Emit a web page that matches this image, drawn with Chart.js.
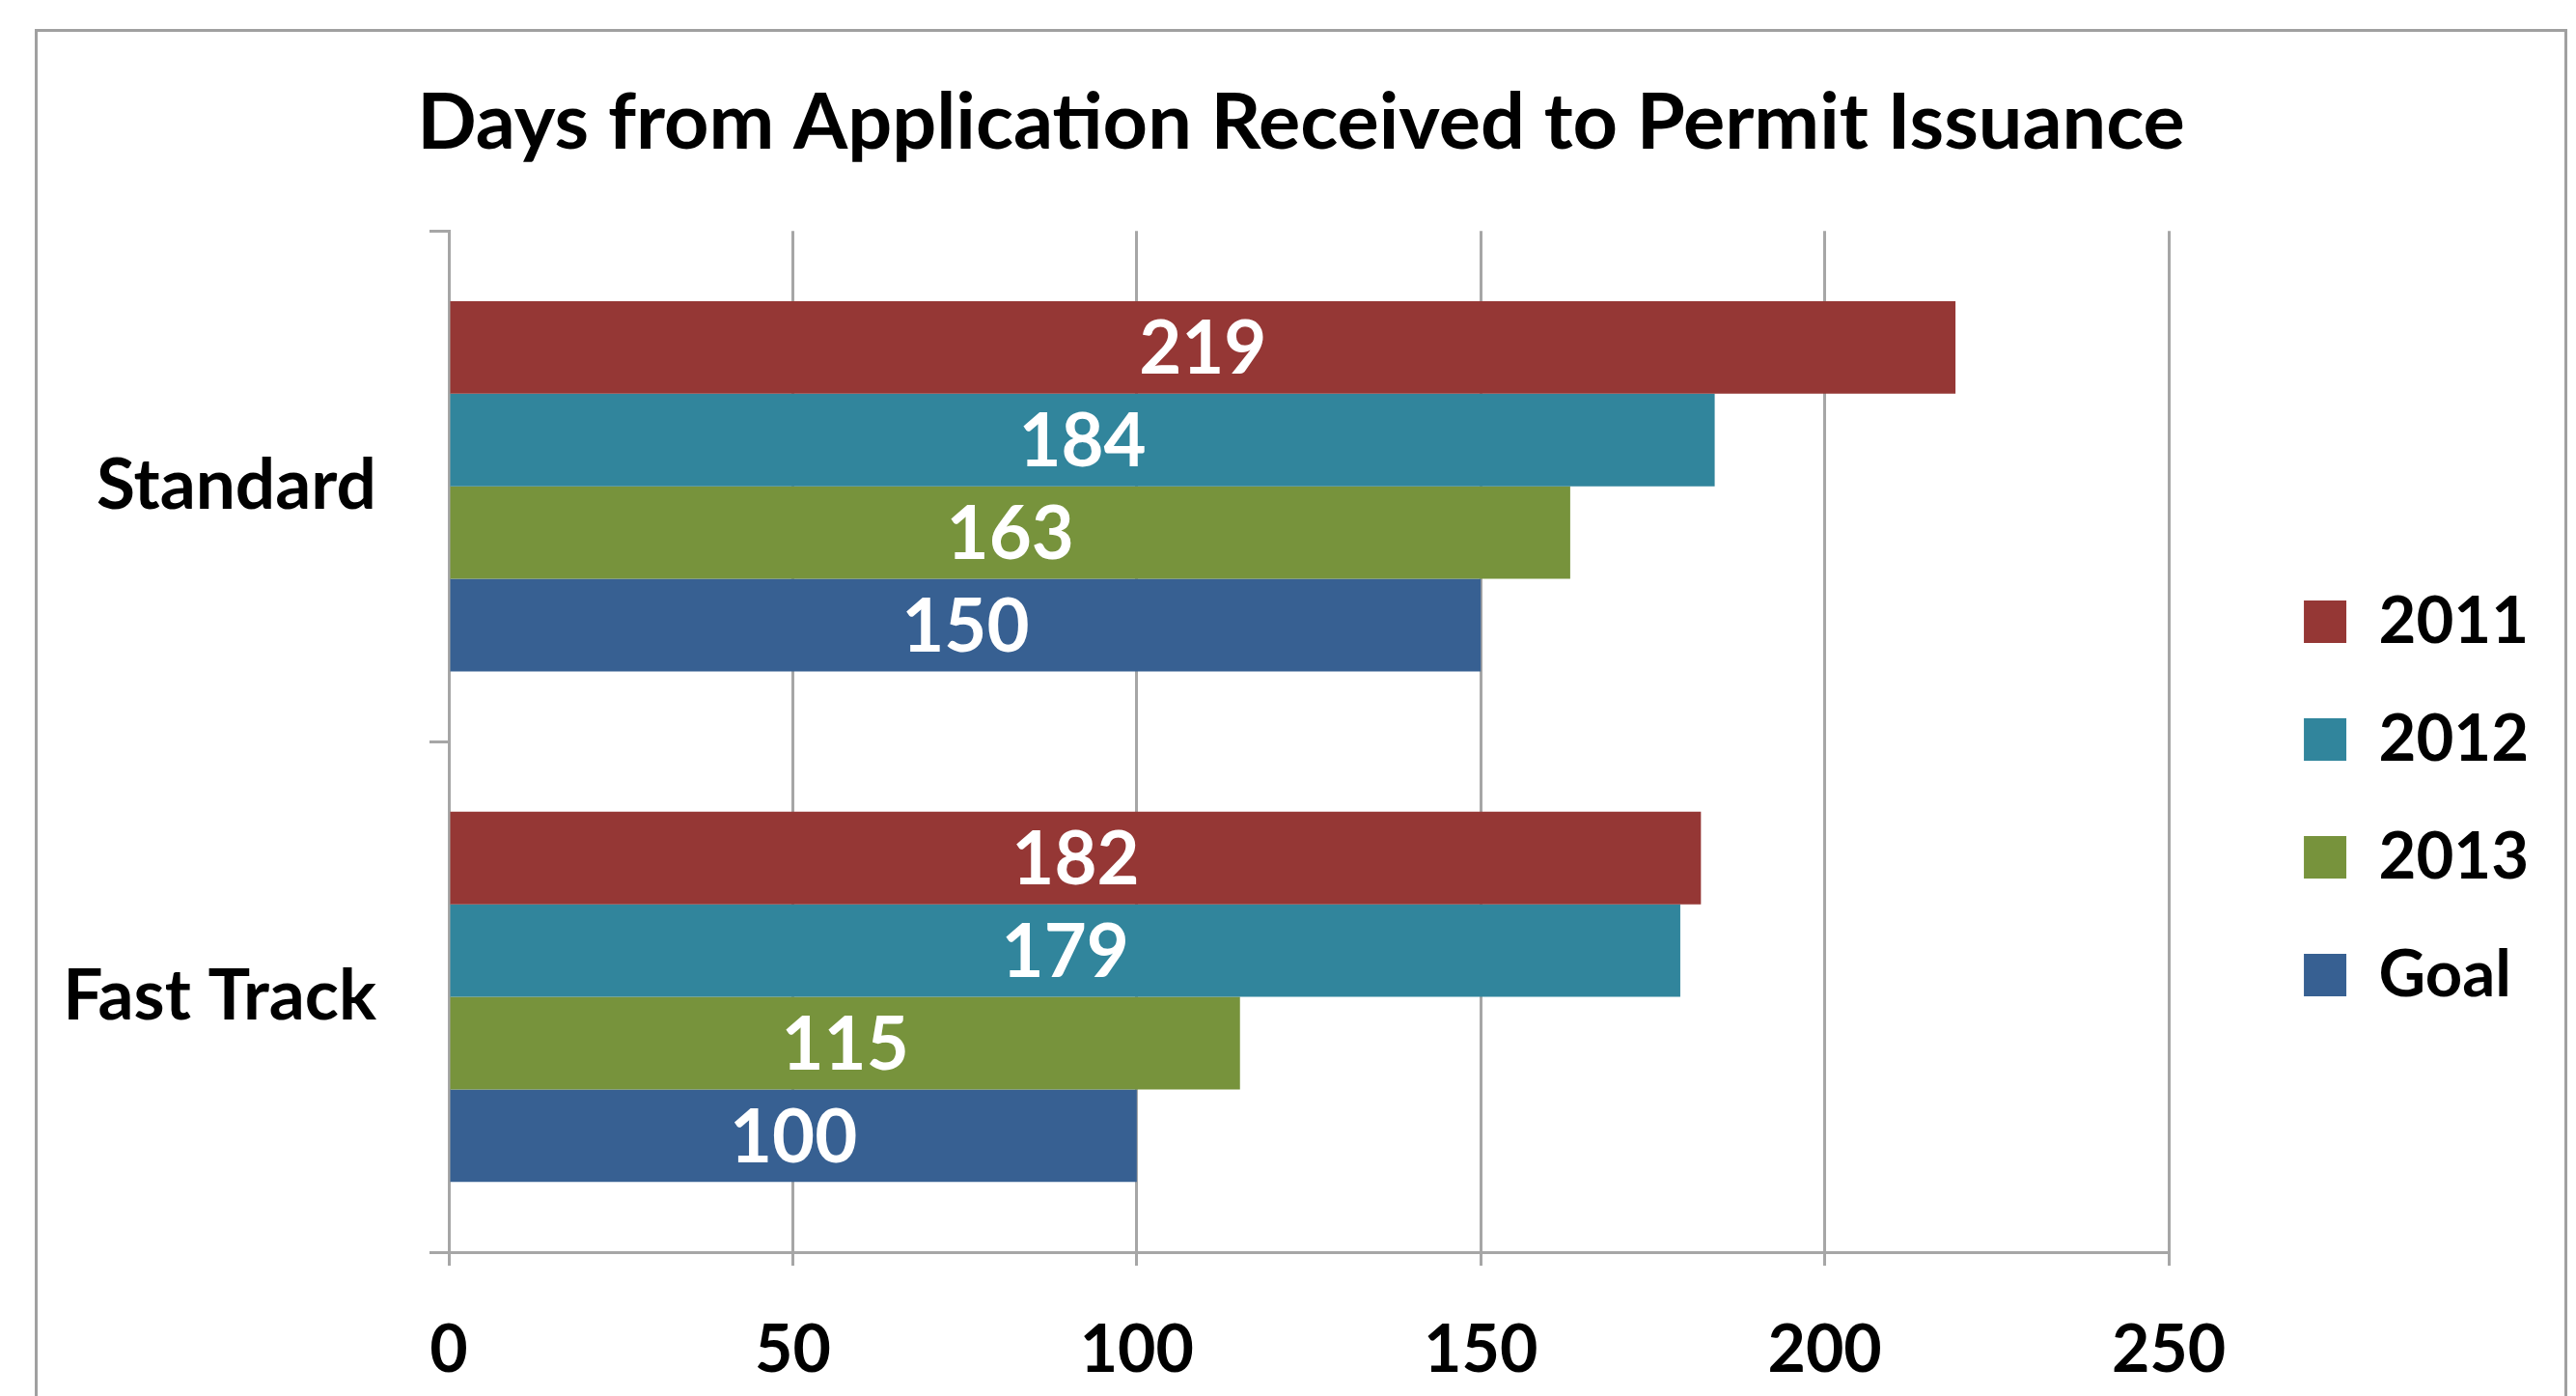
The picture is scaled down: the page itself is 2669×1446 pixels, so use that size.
<!DOCTYPE html>
<html><head><meta charset="utf-8">
<script src="https://cdn.jsdelivr.net/npm/chart.js@4.4.1/dist/chart.umd.min.js"></script>
<style>html,body{margin:0;padding:0;background:#fff;overflow:hidden}#wrap{position:relative;width:2669px;height:1446px}</style>
</head><body><div id="wrap"><canvas id="c"></canvas></div>
<script>
const chartTitle = 'Days from Application Received to Permit Issuance';
const categories = ['Standard', 'Fast Track'];
const seriesNames = ['2011', '2012', '2013', 'Goal'];
const values2011 = [219, 182];
const values2012 = [184, 179];
const values2013 = [163, 115];
const valuesGoal = [150, 100];
const xTickValues = [0, 50, 100, 150, 200, 250];
const seriesColors = ['#953735', '#31859C', '#77933C', '#376092'];

const FONT = 'Lato, "Open Sans", sans-serif';
const GRID = '#a6a6a6';

const seriesValues = [values2011, values2012, values2013, valuesGoal];
const datasets = seriesNames.map((n, i) => ({
  label: n,
  data: seriesValues[i],
  backgroundColor: seriesColors[i],
  borderWidth: 0,
  barPercentage: 1.0,
  categoryPercentage: 0.725
}));

const frame = {
  id: 'frame',
  beforeDraw(chart) {
    const ctx = chart.ctx;
    ctx.save();
    ctx.fillStyle = '#fff';
    ctx.fillRect(0, 0, chart.width, chart.height);
    ctx.strokeStyle = '#a0a0a0';
    ctx.lineWidth = 3;
    ctx.strokeRect(37.5, 31.5, 2621, 1500);
    ctx.restore();
  }
};

// move the legend block down to sit where the reference has it
const legendShift = {
  id: 'legendShift',
  afterLayout(chart) {
    const lg = chart.legend;
    if (lg) { lg.top += 84; lg.bottom += 84; lg.left -= 6; lg.right -= 6; }
  }
};

const barLabels = {
  id: 'barLabels',
  afterDatasetsDraw(chart) {
    const ctx = chart.ctx;
    ctx.save();
    ctx.font = 'bold 76px ' + FONT;
    ctx.fillStyle = '#ffffff';
    ctx.textAlign = 'center';
    ctx.textBaseline = 'middle';
    chart.data.datasets.forEach((ds, i) => {
      const meta = chart.getDatasetMeta(i);
      meta.data.forEach((el, j) => {
        const p = el.getProps(['x', 'y', 'base'], true);
        ctx.fillText(String(ds.data[j]), (p.x + p.base) / 2, p.y + 3);
      });
    });
    ctx.restore();
  }
};

new Chart(document.getElementById('c'), {
  type: 'bar',
  data: { labels: categories, datasets },
  options: {
    indexAxis: 'y',
    responsive: true,
    maintainAspectRatio: false,
    animation: false,
    events: [],
    layout: { padding: { top: 40, left: 60, right: 33, bottom: 0 } },
    plugins: {
      title: {
        display: true,
        text: chartTitle,
        color: '#000',
        font: { family: FONT, size: 81, weight: 'bold', lineHeight: 1.2 },
        padding: { top: 39, bottom: 63 }
      },
      legend: {
        position: 'right',
        labels: {
          color: '#000',
          boxWidth: 44,
          boxHeight: 44,
          padding: 55,
          font: { family: FONT, size: 67, weight: 'bold' }
        }
      },
      tooltip: { enabled: false }
    },
    scales: {
      x: {
        type: 'linear',
        position: 'bottom',
        min: 0,
        max: 250,
        afterBuildTicks(s) { s.ticks = xTickValues.map(v => ({ value: v })); },
        afterFit(s) { s.height = 149; },
        grid: { color: GRID, lineWidth: 3, tickLength: 14 },
        border: { color: GRID, width: 3 },
        ticks: { color: '#000', padding: 47, font: { family: FONT, size: 68, weight: 'bold' } }
      },
      y: {
        type: 'category',
        position: 'left',
        afterFit(s) { s.width = 405; },
        grid: { offset: true, drawOnChartArea: false, color: GRID, lineWidth: 3, tickLength: 20 },
        border: { color: GRID, width: 3 },
        ticks: { color: '#000', padding: 55, font: { family: FONT, size: 73, weight: 'bold' } }
      },
      gap: {
        type: 'linear',
        position: 'right',
        display: true,
        afterFit(s) { s.width = 91; },
        grid: { display: false },
        border: { display: false },
        ticks: { display: false }
      }
    }
  },
  plugins: [frame, legendShift, barLabels]
});
</script>
</body></html>
